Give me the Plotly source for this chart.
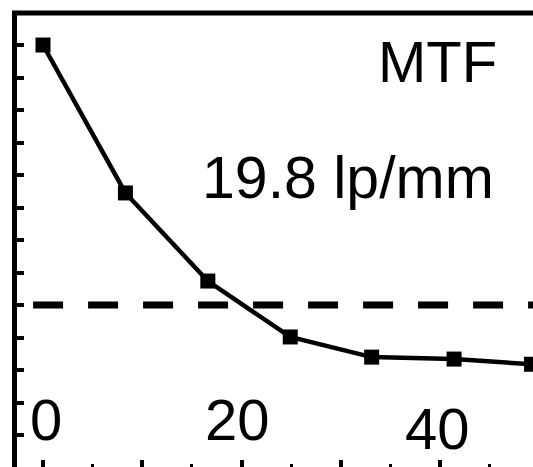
import plotly.graph_objects as go

# Data
freq = [0, 8.3, 16.6, 24.9, 33.1, 41.4, 49.2]          # spatial frequency (lp/mm)
mtf = [1.0, 0.545, 0.274, 0.102, 0.040, 0.034, 0.018]  # MTF
threshold = [0.2]
x_tick_labels = [0, 20, 40]
label_title = "MTF"
label_value = "19.8 lp/mm"

FONT = "Liberation Sans, Arial, sans-serif"

fig = go.Figure()

# dashed threshold line
fig.add_trace(go.Scatter(
    x=[-1, 60], y=threshold * 2, mode="lines",
    line=dict(color="black", width=7, dash="30px,25px"),
    hoverinfo="skip"))

# MTF curve
fig.add_trace(go.Scatter(
    x=freq, y=mtf, mode="lines+markers",
    line=dict(color="black", width=4.5),
    marker=dict(symbol="square", size=15, color="black")))

annotations = [
    dict(text=label_title, xref="paper", yref="paper", x=0.814, y=0.893,
         xanchor="center", yanchor="middle", showarrow=False,
         font=dict(family=FONT, size=58, color="black")),
    dict(text=label_value, xref="paper", yref="paper", x=0.641, y=0.637,
         xanchor="center", yanchor="middle", showarrow=False,
         font=dict(family=FONT, size=59, color="black")),
]
shifts = [3, -4, -3]
ys = [0.105, 0.105, 0.085]
for v, dx, yy in zip(x_tick_labels, shifts, ys):
    annotations.append(dict(
        text=str(v), xref="x", yref="paper", x=v, y=yy, xshift=dx,
        xanchor="center", yanchor="middle", showarrow=False,
        font=dict(family=FONT, size=58, color="black")))

fig.update_layout(
    width=533, height=467,
    margin=dict(l=17, r=0, t=13, b=0),
    plot_bgcolor="white", paper_bgcolor="white",
    showlegend=False,
    annotations=annotations,
    shapes=[dict(type="line", xref="paper", yref="paper",
                 x0=-0.0097, x1=1.0, y0=1, y1=1,
                 line=dict(color="black", width=5))],
    xaxis=dict(range=[-2.62, 49.35], showline=False, showgrid=False,
               zeroline=False, ticks="inside", ticklen=7, tickwidth=4,
               tickcolor="black", tick0=0, dtick=10, showticklabels=False,
               minor=dict(ticks="inside", ticklen=3, tickwidth=3,
                          tickcolor="black", dtick=5, showgrid=False)),
    yaxis=dict(range=[-0.298, 1.0985], showline=True, linewidth=5,
               linecolor="black", showgrid=False, zeroline=False,
               ticks="inside", ticklen=7, tickwidth=4, tickcolor="black",
               tick0=0, dtick=0.1, showticklabels=False),
)

fig.write_html(
    "out.html",
    config={"displayModeBar": False},
    post_script="document.body.style.margin='0';"
                "document.body.style.overflow='hidden';",
)
